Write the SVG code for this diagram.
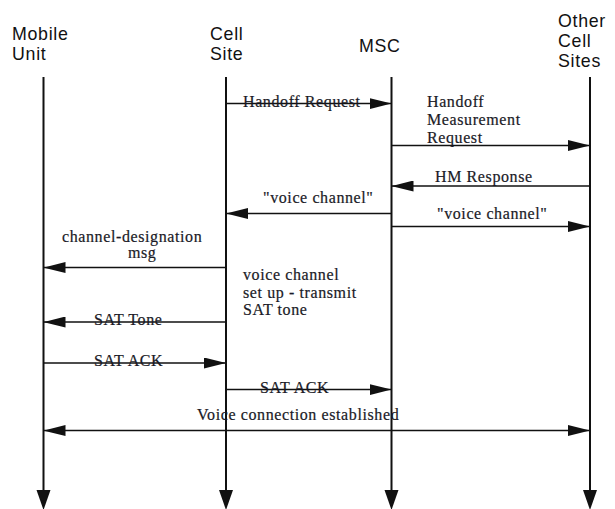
<svg xmlns="http://www.w3.org/2000/svg" width="615" height="509" viewBox="0 0 615 509">
  <style>
    .hdr { font-family: "Liberation Sans", Arial, sans-serif; font-size: 17.8px; letter-spacing: 0.7px; fill: #111; }
    .lbl { font-family: "Liberation Serif", "Times New Roman", serif; font-size: 16px; fill: #1a1a26; letter-spacing: 0.6px; stroke: #1a1a26; stroke-width: 0.2px; }
    .life { stroke: #111; stroke-width: 2; fill: none; }
    .msg { stroke: #111; stroke-width: 1.6; fill: none; }
    .head { fill: #111; }
  </style>
  <defs>
    <marker id="arr" viewBox="0 0 22 11" refX="22" refY="5.5" markerWidth="22" markerHeight="11" markerUnits="userSpaceOnUse" orient="auto-start-reverse">
      <path d="M0,0 L22,5.5 L0,11 Z" class="head"/>
    </marker>
  </defs>
  <rect width="615" height="509" fill="#fff"/>

  <!-- participants with their lifelines -->
  <g id="mobile-unit">
    <text class="hdr" x="12" y="40">Mobile<tspan x="12" dy="20">Unit</tspan></text>
    <line class="life" x1="43.5" y1="77" x2="43.5" y2="492"/>
    <path class="head" d="M36.5,490 L50.5,490 L43.5,510 Z"/>
  </g>
  <g id="cell-site">
    <text class="hdr" x="210" y="40">Cell<tspan x="210" dy="20">Site</tspan></text>
    <line class="life" x1="226" y1="77" x2="226" y2="492"/>
    <path class="head" d="M219,490 L233,490 L226,510 Z"/>
  </g>
  <g id="msc">
    <text class="hdr" x="359" y="52">MSC</text>
    <line class="life" x1="391.5" y1="77" x2="391.5" y2="492"/>
    <path class="head" d="M384.5,490 L398.5,490 L391.5,510 Z"/>
  </g>
  <g id="other-cell-sites">
    <text class="hdr" x="558" y="27">Other<tspan x="558" dy="20">Cell</tspan><tspan x="558" dy="20">Sites</tspan></text>
    <line class="life" x1="590" y1="77" x2="590" y2="492"/>
    <path class="head" d="M583,490 L597,490 L590,510 Z"/>
  </g>

  <!-- messages -->
  <g id="connectors">
    <line class="msg" x1="226" y1="103.5" x2="391.5" y2="103.5" marker-end="url(#arr)"/>
    <line class="msg" x1="391.5" y1="145.5" x2="590" y2="145.5" marker-end="url(#arr)"/>
    <line class="msg" x1="590" y1="186" x2="391.5" y2="186" marker-end="url(#arr)"/>
    <line class="msg" x1="391.5" y1="213.5" x2="226" y2="213.5" marker-end="url(#arr)"/>
    <line class="msg" x1="391.5" y1="226.5" x2="590" y2="226.5" marker-end="url(#arr)"/>
    <line class="msg" x1="226" y1="267.5" x2="43.5" y2="267.5" marker-end="url(#arr)"/>
    <line class="msg" x1="226" y1="322" x2="43.5" y2="322" marker-end="url(#arr)"/>
    <line class="msg" x1="43.5" y1="363" x2="226" y2="363" marker-end="url(#arr)"/>
    <line class="msg" x1="226" y1="389.5" x2="391.5" y2="389.5" marker-end="url(#arr)"/>
    <line class="msg" x1="43.5" y1="430.5" x2="590" y2="430.5" marker-start="url(#arr)" marker-end="url(#arr)"/>
  </g>

  <!-- message labels -->
  <g id="labels">
    <text class="lbl" x="243" y="107">Handoff Request</text>
    <text class="lbl" x="427" y="107">Handoff<tspan x="427" dy="18">Measurement</tspan><tspan x="427" dy="18">Request</tspan></text>
    <text class="lbl" x="435" y="182">HM Response</text>
    <text class="lbl" x="263" y="203">"voice channel"</text>
    <text class="lbl" x="437" y="219">"voice channel"</text>
    <text class="lbl" x="62" y="242">channel-designation<tspan x="128" dy="16">msg</tspan></text>
    <text class="lbl" x="243" y="280">voice channel<tspan x="243" dy="18">set up - transmit</tspan><tspan x="243" dy="17">SAT tone</tspan></text>
    <text class="lbl" x="94" y="325">SAT Tone</text>
    <text class="lbl" x="94" y="366">SAT ACK</text>
    <text class="lbl" x="260" y="393">SAT ACK</text>
    <text class="lbl" x="197" y="420">Voice connection established</text>
  </g>
</svg>
